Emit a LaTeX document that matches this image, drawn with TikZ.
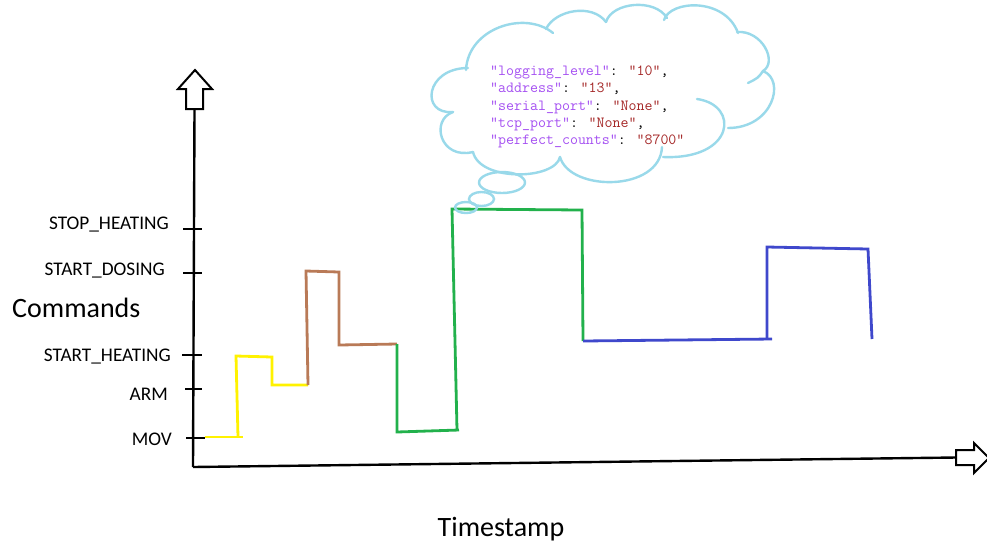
\documentclass[tikz,border=0pt]{standalone}
\usepackage{fontspec}
\setmainfont{Carlito}
\definecolor{cyell}{RGB}{255,242,0}
\definecolor{cbrown}{RGB}{185,122,87}
\definecolor{cgreen}{RGB}{34,177,76}
\definecolor{cblue}{RGB}{63,72,204}
\definecolor{ccloud}{RGB}{153,217,234}
\definecolor{ckey}{RGB}{165,80,242}
\definecolor{cval}{RGB}{165,40,40}
\tikzset{
  axisline/.style={line width=2.4pt, black},
  tickline/.style={line width=2.2pt, black},
  blockarrow/.style={line width=2pt, black, fill=white, line join=miter},
  steps/.style={line width=2.8pt, line join=miter},
  cloudline/.style={line width=2.4pt, ccloud, line cap=round},
  cmdlabel/.style={anchor=base east, inner sep=0pt, font=\fontsize{19.3}{23}\selectfont},
  biglabel/.style={inner sep=0pt, font=\fontsize{28}{33}\selectfont},
  codeline/.style={anchor=base west, inner sep=0pt, font=\ttfamily\fontsize{15.5}{17}\selectfont},
}
\newcommand{\ky}[1]{\textcolor{ckey}{"#1"}}
\newcommand{\vl}[1]{\textcolor{cval}{"#1"}}
\begin{document}
\begin{tikzpicture}[x=1pt,y=-1pt]
\useasboundingbox (0,0) rectangle (987,542);
\fill[white] (0,0) rectangle (987,542);

% axes
\coordinate (yb) at (193,467);
\coordinate (yt) at (194.5,109);
\coordinate (xr) at (956,457.5);
\draw[axisline] (yb) -- (yt);
\draw[axisline] (yb) -- (xr);
\draw[blockarrow] (186,109) -- (186,89) -- (178,89) -- (195,70) -- (212,89) -- (203,89) -- (203,109) -- cycle;
\draw[blockarrow] (956,450) -- (974,450) -- (974,443) -- (989,458) -- (974,473) -- (974,465) -- (956,465) -- cycle;

% ticks
\foreach \y/\a/\b in {229/183/202, 273/183/202, 355/182/202, 389/185/202, 438/186/205}
  \draw[tickline] (\a,\y) -- (\b,\y);

% labels
\node[cmdlabel] (lstop) at (169,229.3) {STOP\_HEATING};
\node[cmdlabel] (ldos) at (165,275) {START\_DOSING};
\node[cmdlabel] (lheat) at (171,361) {START\_HEATING};
\node[cmdlabel] (larm) at (168,400) {ARM};
\node[cmdlabel] (lmov) at (172,445) {MOV};
\node[biglabel, anchor=base west] (lcmd) at (12,317) {Commands};
\node[biglabel, anchor=base] (lts) at (501,536) {Timestamp};

% step signal
\coordinate (p0) at (205,437);
\coordinate (p1) at (243,437);
\coordinate (p1b) at (238,437);
\coordinate (p2) at (236,356);
\coordinate (p3) at (272,357);
\coordinate (p4) at (272,385);
\coordinate (p5) at (308,385);
\coordinate (p6) at (306,271);
\coordinate (p7) at (339,272);
\coordinate (p8) at (339,345);
\coordinate (p9) at (397,344);
\coordinate (p10) at (397,432);
\coordinate (p11) at (459,430);
\coordinate (p11b) at (457,430);
\coordinate (p12) at (452,209);
\coordinate (p13) at (582,210);
\coordinate (p14) at (583,341);
\coordinate (p15) at (772,339);
\coordinate (p15b) at (767,339);
\coordinate (p16) at (767,247);
\coordinate (p17) at (868,249);
\coordinate (p18) at (872,339);
\draw[steps, cyell] (p0) -- (p1);
\draw[steps, cyell] (p1b) -- (p2) -- (p3) -- (p4) -- (p5);
\draw[steps, cbrown] (p5) -- (p6) -- (p7) -- (p8) -- (p9);
\draw[steps, cgreen] (p9) -- (p10) -- (p11);
\draw[steps, cgreen] (p11b) -- (p12) -- (p13) -- (p14);
\draw[steps, cblue] (p14) -- (p15);
\draw[steps, cblue] (p15b) -- (p16) -- (p17) -- (p18);

% cloud
\draw[cloudline] (453,112) .. controls (420,115) and (425,68) .. (468,68);
\draw[cloudline] (466,70) .. controls (468,28) and (525,10) .. (553,33);
\draw[cloudline] (546,29) .. controls (555,10) and (592,3) .. (606,22);
\draw[cloudline] (606,22) .. controls (612,2) and (655,-2) .. (667,18);
\draw[cloudline] (664,20) .. controls (670,0) and (725,-3) .. (738,33);
\draw[cloudline] (737,32) .. controls (762,30) and (778,62) .. (763,71);
\draw[cloudline] (763,71) .. controls (758,78) .. (748,83);
\draw[cloudline] (763,71) .. controls (786,80) and (773,128) .. (728,128);
\draw[cloudline] (697,99) .. controls (740,105) and (735,160) .. (663,157);
\draw[cloudline] (662,147) .. controls (660,192) and (570,192) .. (560,157);
\draw[cloudline] (560,157) .. controls (555,180) and (480,182) .. (473,152);
\draw[cloudline] (473,152) .. controls (440,160) and (430,120) .. (453,112);
% thought bubbles
\draw[cloudline] (502,182.5) ellipse [x radius=23, y radius=10.5];
\draw[cloudline] (481.5,199) ellipse [x radius=12.5, y radius=7];
\draw[cloudline] (466,207.5) ellipse [x radius=11, y radius=5.5];

% code text
\node[codeline] (c1) at (490,75.5) {\ky{logging\_level}: \vl{10},};
\node[codeline] (c2) at (490,92.8) {\ky{address}: \vl{13},};
\node[codeline] (c3) at (490,110.1) {\ky{serial\_port}: \vl{None},};
\node[codeline] (c4) at (490,127.4) {\ky{tcp\_port}: \vl{None},};
\node[codeline] (c5) at (490,144.7) {\ky{perfect\_counts}: \vl{8700}};
\end{tikzpicture}
\end{document}
